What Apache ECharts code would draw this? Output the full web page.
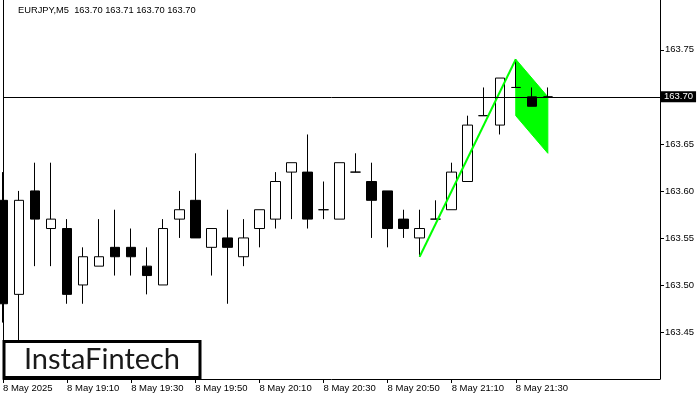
<!DOCTYPE html>
<html><head><meta charset="utf-8">
<script src="https://cdn.jsdelivr.net/npm/echarts@6/dist/echarts.min.js"></script>
<style>html,body{margin:0;padding:0;background:#fff}#c{width:700px;height:400px}</style>
</head><body><div id="c"></div>
<script>
// bar times (5-minute bars), then empty future slots
const times = ['18:50','18:55','19:00','19:05','19:10','19:15','19:20','19:25','19:30','19:35',
  '19:40','19:45','19:50','19:55','20:00','20:05','20:10','20:15','20:20','20:25',
  '20:30','20:35','20:40','20:45','20:50','20:55','21:00','21:05','21:10','21:15',
  '21:20','21:25','21:30','21:35','21:40'];
const futureSlots = ['21:45','21:50','21:55','22:00','22:05','22:10','22:15'];
const firstLabel = '8 May 2025';
const datePrefix = '8 May ';

const opens  = [163.59,163.49,163.60,163.56,163.56,163.50,163.52,163.54,163.54,163.52,
  163.50,163.57,163.59,163.54,163.55,163.53,163.56,163.57,163.62,163.62,
  163.58,163.57,163.62,163.61,163.60,163.57,163.55,163.57,163.58,163.61,
  163.68,163.67,163.71,163.70,163.70];
const closes = [163.48,163.59,163.57,163.57,163.49,163.53,163.53,163.53,163.53,163.51,
  163.56,163.58,163.55,163.56,163.54,163.55,163.58,163.61,163.63,163.57,
  163.58,163.63,163.62,163.59,163.56,163.56,163.56,163.57,163.62,163.67,
  163.68,163.72,163.71,163.69,163.70];
const lows   = [163.46,163.43,163.52,163.52,163.48,163.48,163.52,163.51,163.51,163.49,
  163.50,163.55,163.55,163.51,163.48,163.52,163.54,163.56,163.57,163.56,
  163.57,163.57,163.62,163.55,163.54,163.55,163.53,163.57,163.58,163.61,
  163.68,163.66,163.71,163.69,163.70];
const highs  = [163.62,163.60,163.63,163.63,163.57,163.54,163.57,163.58,163.56,163.54,
  163.57,163.60,163.64,163.56,163.58,163.57,163.58,163.62,163.63,163.66,
  163.61,163.63,163.64,163.63,163.60,163.58,163.58,163.59,163.63,163.68,
  163.71,163.72,163.74,163.71,163.71];

const yTicks = [163.45,163.50,163.55,163.60,163.65,163.70,163.75];
const currentPrice = 163.70;
const headerText = 'EURJPY,M5  163.70 163.71 163.70 163.70';

// flag pattern: pole and flag polygon (bar index, price)
const poleX = [26, 32];
const poleY = [163.53, 163.74];
const flagX = [32, 34, 34, 32];
const flagY = [163.74, 163.70, 163.64, 163.68];

const categories = times.concat(futureSlots);
const candleData = opens.map((o, i) => [o, closes[i], lows[i], highs[i]]);
const showIdx = (i) => i % 4 === 0 && i < times.length;

const chart = echarts.init(document.getElementById('c'), null, {renderer: 'canvas'});
const font = 'Liberation Sans, Arial, sans-serif';
chart.setOption({
  animation: false,
  backgroundColor: '#fff',
  grid: {left: 3, right: 40, top: 0, bottom: 21},
  xAxis: {
    type: 'category', data: categories, boundaryGap: false,
    axisLine: {show: true, lineStyle: {color: '#000', width: 1}},
    axisTick: {show: true, interval: showIdx, length: 4, lineStyle: {color: '#000'}},
    axisLabel: {
      interval: showIdx, align: 'left', margin: 4,
      fontFamily: font, fontSize: 9.5, color: '#000',
      formatter: (v, i) => i === 0 ? firstLabel : datePrefix + v
    },
    splitLine: {show: false}
  },
  yAxis: [{
    type: 'value', position: 'right', min: 163.40, max: 163.803, interval: 0.05, scale: true,
    axisLine: {show: true, lineStyle: {color: '#000', width: 1}},
    axisTick: {show: true, length: 4, lineStyle: {color: '#000'}, customValues: yTicks},
    axisLabel: {fontFamily: font, fontSize: 9.5, color: '#000', margin: 5,
      customValues: yTicks,
      formatter: v => v.toFixed(2)},
    splitLine: {show: false}
  }, {
    type: 'value', position: 'left', min: 163.40, max: 163.803,
    axisLine: {show: true, lineStyle: {color: '#000', width: 1}},
    axisTick: {show: false}, axisLabel: {show: false}, splitLine: {show: false}
  }],
  series: [{
    type: 'custom', z: 1, silent: true, clip: true,
    data: [[0]],
    renderItem: (params, api) => {
      const pts = flagX.map((x, i) => api.coord([x, flagY[i]]));
      return {type: 'polygon', shape: {points: pts}, style: {fill: '#00ff00', stroke: '#00ff00', lineWidth: 1}};
    }
  }, {
    type: 'candlestick', z: 2, data: candleData, barWidth: 10, clip: true,
    itemStyle: {color: '#fff', color0: '#000', borderColor: '#000', borderColor0: '#000', borderWidth: 1},
    markLine: {
      silent: true, symbol: 'none', animation: false,
      lineStyle: {color: '#000', width: 1, type: 'solid'},
      label: {show: true, position: 'end', formatter: currentPrice.toFixed(2),
        backgroundColor: '#000', color: '#fff', fontFamily: font, fontSize: 9.5,
        padding: [1, 3, 0, 3], distance: 1},
      data: [{yAxis: currentPrice}]
    }
  }, {
    type: 'line', z: 3, silent: true, symbol: 'none',
    data: poleX.map((x, i) => [x, poleY[i]]),
    lineStyle: {color: '#00ff00', width: 2}
  }],
  graphic: [{
    type: 'text', left: 18, top: 6, z: 100,
    style: {text: headerText, fill: '#000', font: '9.3px ' + font}
  }, {
    type: 'rect', z: 100, shape: {x: 4, y: 341.5, width: 196, height: 36},
    style: {fill: '#fff', stroke: '#000', lineWidth: 3}
  }, {
    type: 'text', z: 101, x: 102, y: 360,
    style: {text: 'InstaFintech', fill: '#1a1a1a', font: '29px Lato, sans-serif', align: 'center', verticalAlign: 'middle'}
  }]
});
</script></body></html>
